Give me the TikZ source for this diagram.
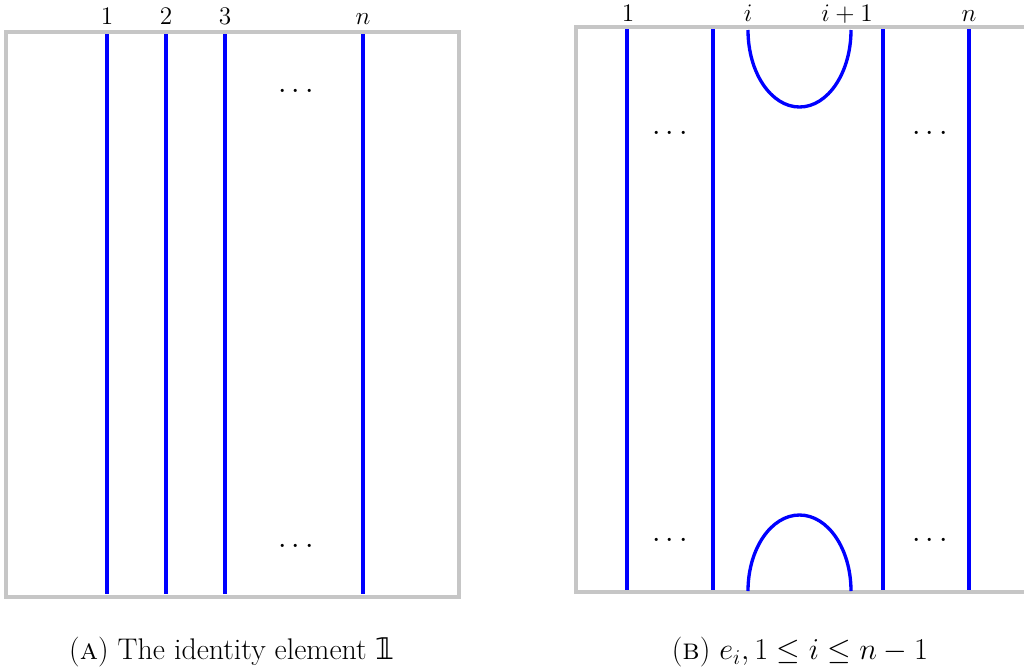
\documentclass[tikz,border=0pt]{standalone}
\usepackage{fontspec}
\newfontfamily\symfont{DejaVu Sans}
\usetikzlibrary{positioning}

\begin{document}
\begin{tikzpicture}[
        x = 0.02cm, y = -0.02cm, % pixel-like grid
        strand/.style = {blue, line width=1.9pt},
        frame/.style = {gray!45, line width=1.9pt},
        lab/.style = {font=\fontsize{15pt}{18pt}\selectfont, inner sep=0pt},
        captext/.style = {font=\fontsize{17pt}{20pt}\selectfont, inner sep=0pt},
        ]
  \useasboundingbox (0,0) rectangle (1024,670);

  % left picture: identity
  \draw[frame] (6,32) rectangle (459,597);
  \foreach \p/\x/\t in {a1/107/1, a2/166/2, a3/225/3, an/363/n} {
    \coordinate (\p top) at (\x,34);
    \coordinate (\p bot) at (\x,594);
    \node[lab, anchor=base] (\p lab) at (\x,24) {$\t$};
    \draw[strand] (\p top) -- (\p bot);
  }
  \node[captext] (adots1) at (296,92) {$\cdots$};
  \node[captext] (adots2) at (296,547) {$\cdots$};

  % right picture: e_i
  \draw[frame] (1024,27) -- (576,27) -- (576,592) -- (1024,592);
  \foreach \p/\x in {b1/627, bim/713, bip/883, bn/969} {
    \coordinate (\p top) at (\x,29);
    \coordinate (\p bot) at (\x,590);
    \draw[strand] (\p top) -- (\p bot);
  }
  \node[lab, anchor=base] (b1lab) at (628,21) {$1$};
  \node[lab, anchor=base] (bilab) at (748,21) {$i$};
  \node[lab, anchor=base] (bi1lab) at (847,21) {$i+1$};
  \node[lab, anchor=base] (bnlab) at (969,21) {$n$};

  \coordinate (capL) at (748,30);
  \coordinate (cupL) at (748,591);
  \draw[strand] (capL) arc[start angle=180, end angle=0, x radius=51.5, y radius=77];
  \draw[strand] (cupL) arc[start angle=180, end angle=360, x radius=51.5, y radius=76];

  \node[captext] (bdots1) at (670,134) {$\cdots$};
  \node[captext] (bdots2) at (670,541) {$\cdots$};
  \node[captext] (bdots3) at (930,134) {$\cdots$};
  \node[captext] (bdots4) at (930,541) {$\cdots$};

  % captions
  \node[captext] (capA) at (232,652) {(\textsc{a}) The identity element {\symfont 𝟙}};
  \node[captext] (capB) at (800,652) {(\textsc{b}) $e_i, 1 \le i \le n-1$};
\end{tikzpicture}
\end{document}
